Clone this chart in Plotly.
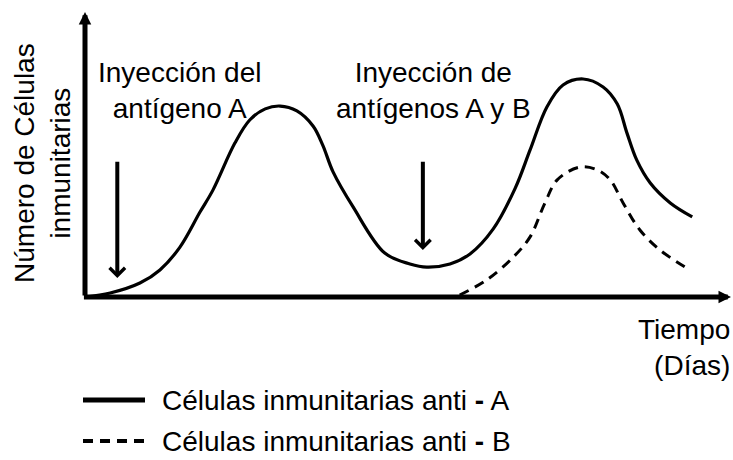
import plotly.graph_objects as go

# Time axis (arbitrary day units) and cell counts (arbitrary units)
dias_a = [0, 3.9, 8.5, 11.6, 14.7, 17.8, 19.8, 23.2, 25.5, 27.9, 30.2, 32.8, 35.3, 36.8, 38.4,
          41.5, 46.4, 50.3, 52.9, 56.5, 59.6, 63.2, 66.6, 68.9, 71.5, 74.0, 77.1, 80.2, 82.4,
          83.9, 85.4, 87.5, 90.6, 94.0]
celulas_a = [0, 1.4, 4.9, 9.5, 17.5, 29.8, 37.5, 54.0, 62.1, 66.0, 67.0, 65.3, 60.0, 53.3, 43.9,
             31.6, 15.4, 11.6, 10.5, 11.6, 15.1, 23.9, 38.2, 51.6, 66.7, 74.4, 76.5, 73.7, 67.7,
             57.5, 48.1, 40.0, 33.0, 28.1]

dias_b = [58.0, 62.2, 66.3, 68.9, 71.2, 73.1, 76.6, 79.3, 81.3, 83.3, 85.9, 89.0, 92.9]
celulas_b = [0.7, 6.0, 14.0, 21.1, 33.0, 41.1, 45.6, 44.6, 41.1, 33.0, 23.5, 16.5, 10.5]

# Injection events: day, arrow tip level, label text and label position
inyecciones = [5.0, 52.3]
punta = [6.7, 16.5]
textos = ["Inyección del<br>antígeno A", "Inyección de<br>antígenos A y B"]
texto_x = [14.6, 54.0]

legend_names = ["Células inmunitarias anti <b>-</b> A", "Células inmunitarias anti <b>-</b> B"]

FONT = "Liberation Sans, Arial, sans-serif"

fig = go.Figure()

fig.add_trace(go.Scatter(x=dias_a, y=celulas_a, mode="lines", line_shape="spline",
                         line=dict(color="black", width=3.2), showlegend=False))
fig.add_trace(go.Scatter(x=dias_b, y=celulas_b, mode="lines", line_shape="spline",
                         line=dict(color="black", width=3, dash="10px,7px"), showlegend=False))

# axes drawn as arrows
fig.add_annotation(x=0, y=100, ax=0, ay=0, xref="x", yref="y", axref="x", ayref="y",
                   showarrow=True, arrowhead=2, arrowsize=0.5, arrowwidth=5, arrowcolor="black", text="")
fig.add_annotation(x=100, y=0, ax=-0.4, ay=0, xref="x", yref="y", axref="x", ayref="y",
                   showarrow=True, arrowhead=2, arrowsize=0.5, arrowwidth=5, arrowcolor="black", text="")

# injection arrows and labels
for d, p, t, tx in zip(inyecciones, punta, textos, texto_x):
    fig.add_annotation(x=d, y=p, ax=d, ay=48,
                       xref="x", yref="y", axref="x", ayref="y",
                       showarrow=True, arrowhead=4, arrowsize=0.75, arrowwidth=4,
                       arrowcolor="black", text="")
    fig.add_annotation(x=tx, y=72.3, xref="x", yref="y", text=t, showarrow=False,
                       xanchor="center", yanchor="middle", font=dict(size=28, color="black"))

# axis titles
fig.add_annotation(x=43 / 733, y=0.6457, xref="paper", yref="paper", text="Número de Células<br>inmunitarias",
                   textangle=-90, showarrow=False, xanchor="center", yanchor="middle",
                   font=dict(size=28, color="black"))
fig.add_annotation(x=0.999, y=0.2435, xref="paper", yref="paper", text="Tiempo<br>(Días)",
                   align="right", showarrow=False, xanchor="right", yanchor="middle",
                   font=dict(size=28, color="black"))

# hand-made legend
for i, (name, dash) in enumerate(zip(legend_names, ["solid", "10px,7px"])):
    yy = [0.1304, 0.0413][i]
    fig.add_shape(type="line", xref="paper", yref="paper", x0=83 / 733, x1=145 / 733, y0=yy, y1=yy,
                  line=dict(color="black", width=5 if i == 0 else 4, dash=dash))
    fig.add_annotation(x=160 / 733, y=yy, xref="paper", yref="paper", text=name,
                       showarrow=False, xanchor="left", yanchor="middle",
                       font=dict(size=28, color="black"))

fig.update_layout(
    width=733, height=460,
    margin=dict(l=0, r=0, t=0, b=0),
    paper_bgcolor="white", plot_bgcolor="white",
    font=dict(family=FONT, color="black"),
    xaxis=dict(domain=[85 / 733, 731 / 733], range=[0, 100], showgrid=False, zeroline=False,
               showticklabels=False, ticks=""),
    yaxis=dict(domain=[163 / 460, 448 / 460], range=[0, 100], showgrid=False, zeroline=False,
               showticklabels=False, ticks=""),
)

# drop the browser's default 8px body margin so the figure sits at the window corner
fig.write_html("out.html", config={"displayModeBar": False},
               post_script="document.body.style.margin='0';")
